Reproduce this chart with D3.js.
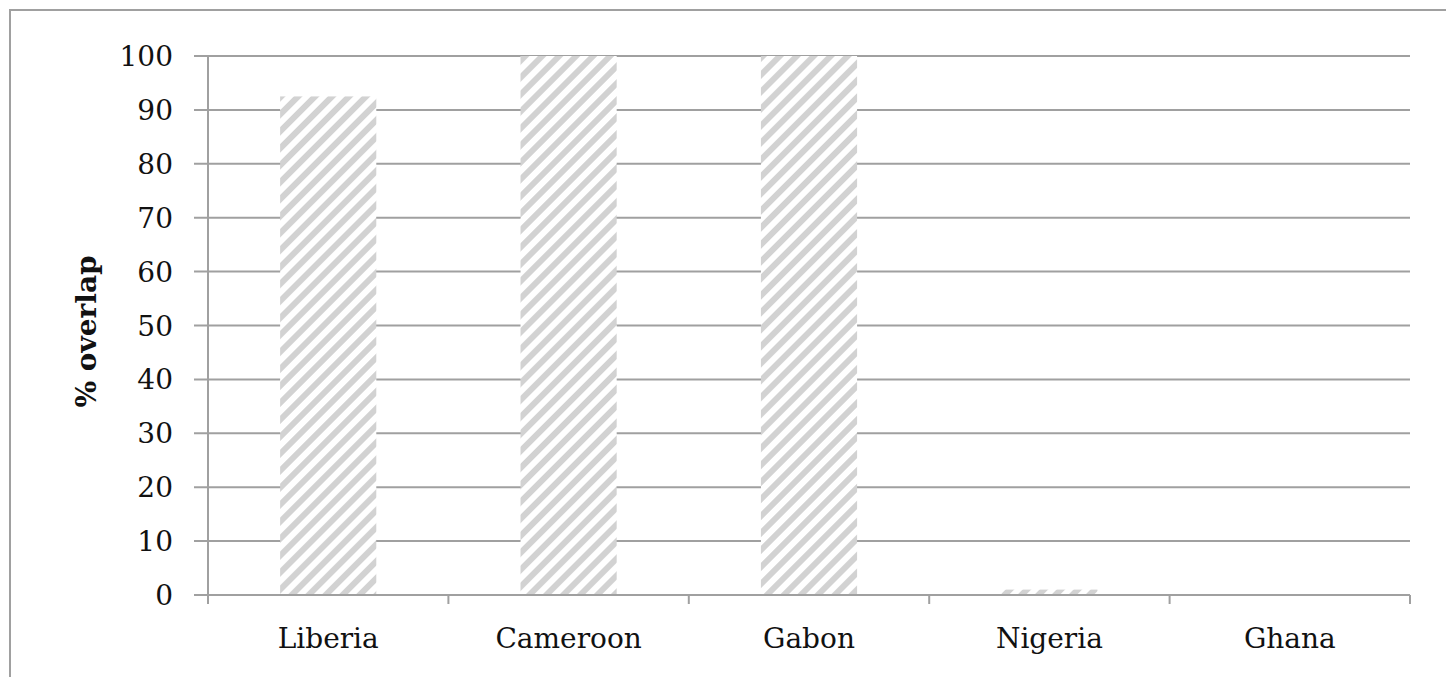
<!DOCTYPE html>
<html><head><meta charset="utf-8">
<script src="https://cdn.jsdelivr.net/npm/d3@7"></script>
<style>html,body{margin:0;padding:0;background:#fff;}svg{display:block;}</style>
</head><body>
<svg id="chart" width="1446" height="677"></svg>
<script>
const categories = ["Liberia", "Cameroon", "Gabon", "Nigeria", "Ghana"];
const values = [92.5, 100, 100, 1, 0];
const yTicks = [0, 10, 20, 30, 40, 50, 60, 70, 80, 90, 100];
const yTitle = "% overlap";

const svg = d3.select("#chart");
const W = 1446, H = 677;
const margin = {left: 208, right: 36, top: 56, bottom: 82};
const x0 = margin.left, x1 = W - margin.right, yTop = margin.top, yBot = H - margin.bottom;

// frame
svg.append("rect").attr("x", 10).attr("y", 10).attr("width", W + 20).attr("height", H + 20)
  .attr("fill", "#fff").attr("stroke", "#a0a0a0").attr("stroke-width", 2);

const defs = svg.append("defs");
const pat = defs.append("pattern").attr("id", "hatch").attr("patternUnits", "userSpaceOnUse")
  .attr("width", 12).attr("height", 12).attr("patternTransform", "rotate(45)");
pat.append("rect").attr("width", 12).attr("height", 12).attr("fill", "#ffffff");
pat.append("rect").attr("x", 0).attr("y", 0).attr("width", 6).attr("height", 12).attr("fill", "#d2d2d2");

const x = d3.scaleBand().domain(categories).range([x0, x1]).paddingInner(0.6).paddingOuter(0.3);
const xb = d3.scaleBand().domain(categories).range([x0, x1]);
const y = d3.scaleLinear().domain([0, 100]).range([yBot, yTop]);

const font = "'DejaVu Serif', serif";

// gridlines
svg.append("g").selectAll("line").data(yTicks).join("line")
  .attr("x1", x0 - 14).attr("x2", x1).attr("y1", d => y(d)).attr("y2", d => y(d))
  .attr("stroke", "#a0a0a0").attr("stroke-width", 2);

// bars
svg.append("g").selectAll("rect").data(categories).join("rect")
  .attr("x", d => x(d)).attr("width", x.bandwidth())
  .attr("y", (d, i) => y(values[i])).attr("height", (d, i) => yBot - y(values[i]))
  .attr("fill", "url(#hatch)");

// y axis line
svg.append("line").attr("x1", x0).attr("x2", x0).attr("y1", yTop).attr("y2", yBot + 9)
  .attr("stroke", "#a0a0a0").attr("stroke-width", 2);
// x axis line
svg.append("line").attr("x1", x0).attr("x2", x1).attr("y1", yBot).attr("y2", yBot)
  .attr("stroke", "#a0a0a0").attr("stroke-width", 2);
// x boundary ticks
const bounds = categories.map(c => xb(c)).concat([x1]);
svg.append("g").selectAll("line").data(bounds).join("line")
  .attr("x1", d => d).attr("x2", d => d).attr("y1", yBot).attr("y2", yBot + 9)
  .attr("stroke", "#a0a0a0").attr("stroke-width", 2);

// y tick labels
svg.append("g").selectAll("text").data(yTicks).join("text")
  .attr("x", x0 - 35).attr("y", d => y(d)).attr("dy", "0.36em")
  .attr("text-anchor", "end").attr("font-family", font).attr("font-size", 28)
  .attr("fill", "#111").text(d => d);

// x labels
svg.append("g").selectAll("text").data(categories).join("text")
  .attr("x", d => xb(d) + xb.bandwidth() / 2).attr("y", yBot + 53)
  .attr("text-anchor", "middle").attr("font-family", font).attr("font-size", 28)
  .attr("fill", "#111").text(d => d);

// y title
svg.append("text").attr("transform", `translate(96,${(yTop + yBot) / 2 + 6}) rotate(-90)`)
  .attr("text-anchor", "middle").attr("font-family", font).attr("font-weight", "bold")
  .attr("font-size", 28).attr("fill", "#111").text(yTitle);
</script>
</body></html>
